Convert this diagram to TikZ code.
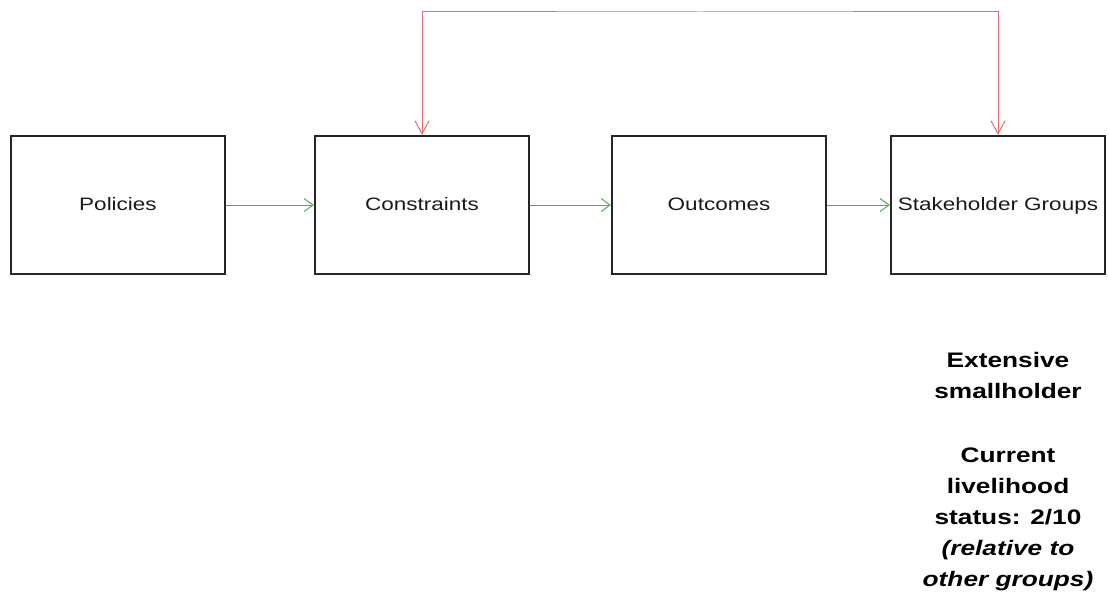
\documentclass[tikz,border=0pt]{standalone}
\usepackage{fontspec}
\setmainfont{Liberation Sans}
\newfontfamily\boxfont[FakeStretch=1.25]{Liberation Sans}
\newfontfamily\notefont[FakeStretch=1.25]{Liberation Sans}
\usetikzlibrary{arrows.meta}
\definecolor{flowgreen}{RGB}{90,170,90}
\definecolor{loopred}{RGB}{232,100,110}
\begin{document}
\begin{tikzpicture}[x=1pt,y=-1pt,
  stage/.style={draw=black!85, line width=2.2pt, minimum width=214pt, minimum height=138pt,
    inner sep=0pt, text height=12pt, text depth=1pt,
    font=\boxfont\fontsize{18}{20}\selectfont, text=black!90},
  flow/.style={draw=flowgreen, line width=1pt, -{Straight Barb[length=9pt,width=13pt]}},
  loop/.style={draw=loopred, line width=1pt,
    {Straight Barb[length=13pt,width=14pt]}-{Straight Barb[length=13pt,width=14pt]}},
  note/.style={align=center, inner sep=0pt, anchor=north,
    font=\notefont\bfseries\fontsize{21}{31}\selectfont}]
\useasboundingbox (0,0) rectangle (1109,599);
\node[stage] (pol) at (118,205) {Policies};
\node[stage] (con) at (422,205) {Constraints};
\node[stage] (out) at (719,205) {Outcomes};
\node[stage] (stk) at (998,205) {Stakeholder Groups};
\draw[flow] (pol) -- (con);
\draw[flow] (con) -- (out);
\draw[flow] (out) -- (stk);
\coordinate (looptop) at (700,12);
\draw[loop] (con.north) |- (looptop) -| (stk.north);
\node[note] (grp) at (1008,352) {Extensive\\smallholder};
\node[note] (stat) at (1008,448) {Current\\livelihood\\status: 2/10\\\textit{(relative to}\\\textit{other groups)}};
\end{tikzpicture}
\end{document}
